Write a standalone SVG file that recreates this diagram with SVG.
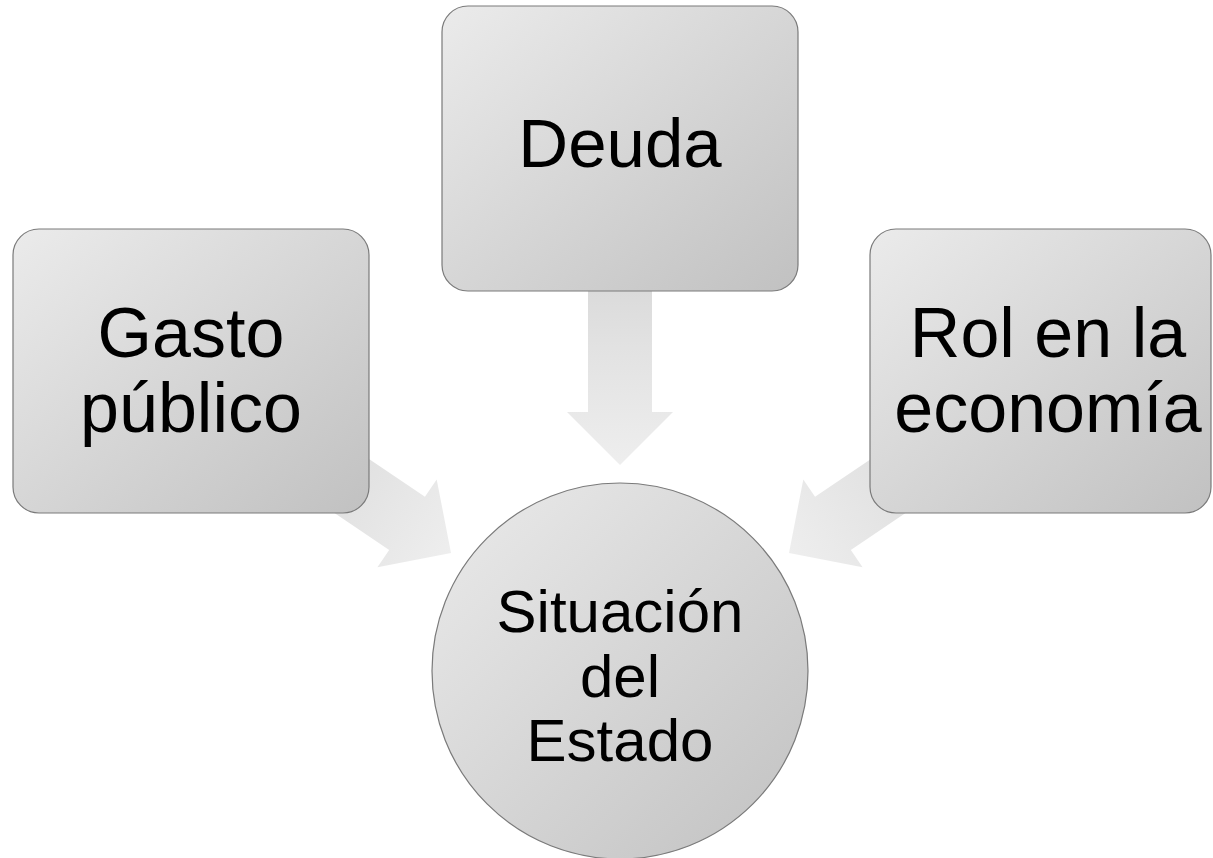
<svg xmlns="http://www.w3.org/2000/svg" width="1213" height="858" viewBox="0 0 1213 858">
<style>
.node{fill:url(#ng);stroke:#7a7a7a;stroke-width:1.2}
.lbl{font-family:"Liberation Sans",Arial,sans-serif;fill:#000;text-anchor:middle}
.arr{fill:url(#ag)}
</style>
<defs>
<linearGradient id="ng" x1="0" y1="0" x2="1" y2="1">
<stop offset="0" stop-color="#ebebeb"/>
<stop offset="0.5" stop-color="#d6d6d6"/>
<stop offset="1" stop-color="#c1c1c1"/>
</linearGradient>
<linearGradient id="ag" x1="0" y1="0" x2="1" y2="0">
<stop offset="0" stop-color="#d6d6d6"/>
<stop offset="0.45" stop-color="#e2e2e2"/>
<stop offset="1" stop-color="#eeeeee"/>
</linearGradient>
<path id="arrow" d="M0,0 L-53,-53 L-53,-32 L-213,-32 L-213,32 L-53,32 L-53,53 Z"/>
</defs>
<g id="connectors">
<use href="#arrow" class="arr" transform="translate(620,465) rotate(90)"/>
<use href="#arrow" class="arr" transform="translate(451,553) rotate(34)"/>
<use href="#arrow" class="arr" transform="translate(789,553) rotate(146)"/>
</g>
<g id="gasto">
<rect class="node" x="13" y="229" width="356" height="284" rx="26" ry="26"/>
<text class="lbl" font-size="70"><tspan x="191" y="357">Gasto</tspan><tspan x="191" y="432">público</tspan></text>
</g>
<g id="deuda">
<rect class="node" x="442" y="6" width="356" height="285" rx="26" ry="26"/>
<text class="lbl" font-size="69" x="620" y="167">Deuda</text>
</g>
<g id="rol">
<rect class="node" x="870" y="229" width="341" height="284" rx="26" ry="26"/>
<text class="lbl" font-size="70"><tspan x="1048" y="357">Rol en la</tspan><tspan x="1048" y="432">economía</tspan></text>
</g>
<g id="situacion">
<circle class="node" cx="620" cy="671" r="188"/>
<text class="lbl" font-size="60"><tspan x="620" y="632">Situación</tspan><tspan x="620" y="697">del</tspan><tspan x="620" y="761">Estado</tspan></text>
</g>
</svg>
